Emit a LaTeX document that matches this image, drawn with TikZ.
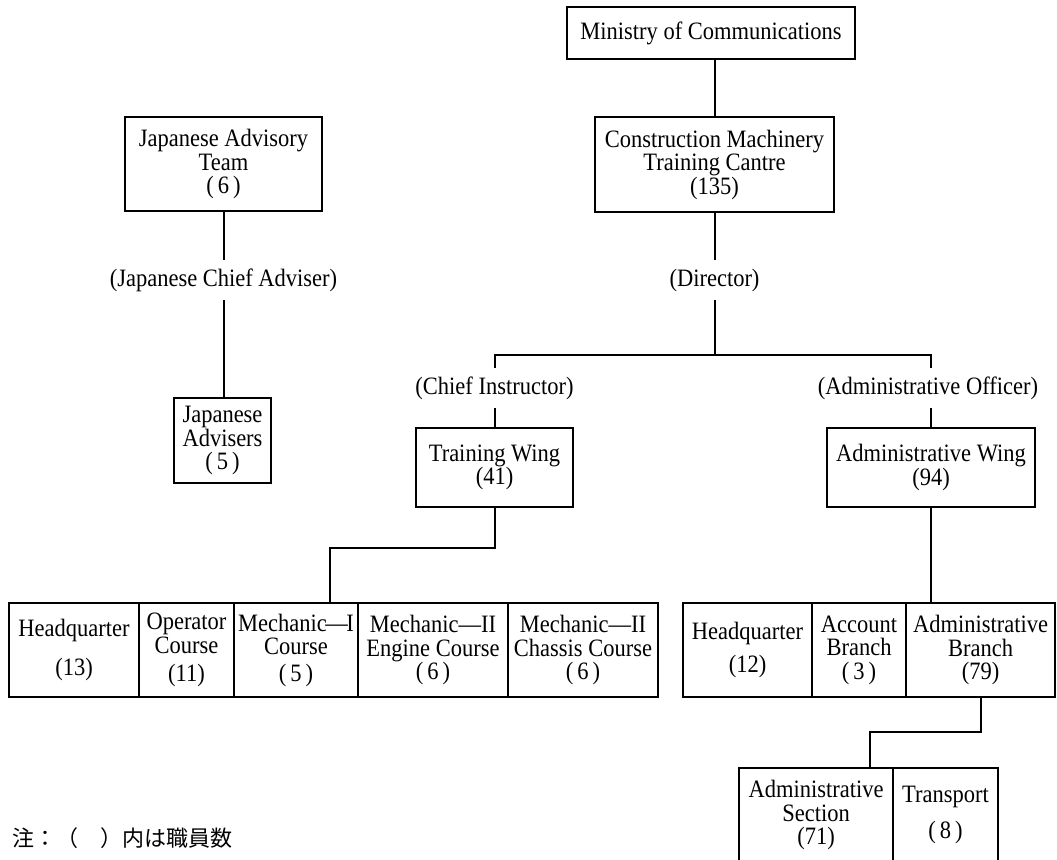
\documentclass[tikz,border=0pt]{standalone}
\usepackage{fontspec}
\newfontfamily\orgfont[FakeStretch=0.9]{Liberation Serif}
\newfontfamily\jpfont{Noto Sans CJK JP}
\newcommand{\pn}[1]{(\hspace{4pt}#1\hspace{4pt})}
\begin{document}
\begin{tikzpicture}[x=1pt,y=-1pt,
 box/.style={draw, line width=2pt, inner sep=0pt, align=center, font=\orgfont\fontsize{25}{23.5}\selectfont},
 lbl/.style={inner sep=0pt, minimum height=40pt, font=\orgfont\fontsize{25}{23.5}\selectfont},
 conn/.style={line width=2pt}]
\useasboundingbox (0,0) rectangle (1057,859);
\clip (0,0) rectangle (1057,859);
% top
\node[box, minimum width=288pt, minimum height=52pt] (min) at (711,33) {Ministry of Communications};
\node[box, minimum width=239pt, minimum height=95pt] (cmtc) at (714.5,164.5) {Construction Machinery\\Training Cantre\\(135)};
\node[lbl] (dir) at (714.5,280) {(Director)};
\coordinate (hub) at (714.5,355);
\node[lbl] (ci) at (494.5,388) {(Chief Instructor)};
\node[lbl] (ao) at (928,388) {(Administrative Officer)};
\node[box, minimum width=157pt, minimum height=79pt] (tw) at (494.5,467.5) {Training Wing\\(41)};
\node[box, minimum width=208pt, minimum height=79pt] (aw) at (931,467.5) {Administrative Wing\\(94)};
% japanese side
\node[box, minimum width=197pt, minimum height=94pt] (jat) at (223.5,164) {Japanese Advisory\\Team\\\pn{6}};
\node[lbl] (jca) at (223.5,280) {(Japanese Chief Adviser)};
\node[box, minimum width=97pt, minimum height=85pt] (ja) at (222.5,440.5) {Japanese\\Advisers\\\pn{5}};
% bottom left row
\node[box, minimum width=130pt, minimum height=94pt] (hqa) at (74,650) {Headquarter\\[16pt](13)};
\node[box, minimum width=95pt, minimum height=94pt] (op) at (186.5,650) {Operator\\Course\\[5pt](11)};
\node[box, minimum width=124pt, minimum height=94pt] (mone) at (296,650) {Mechanic\kern-1.5pt—\kern-1.5pt I\\Course\\[3pt]\pn{5}};
\node[box, minimum width=150pt, minimum height=94pt] (mtwoe) at (433,650) {Mechanic—II\\Engine Course\\\pn{6}};
\node[box, minimum width=150pt, minimum height=94pt] (mtwoc) at (583,650) {Mechanic—II\\Chassis Course\\\pn{6}};
% bottom right row
\node[box, minimum width=129pt, minimum height=94pt] (hqb) at (747.5,650) {Headquarter\\[10pt](12)};
\node[box, minimum width=94pt, minimum height=94pt] (acc) at (859,650) {Account\\Branch\\\pn{3}};
\node[box, minimum width=149pt, minimum height=94pt] (ab) at (980.5,650) {Administrative\\Branch\\(79)};
\node[box, minimum width=154pt, minimum height=94pt] (as) at (816,815) {Administrative\\Section\\(71)};
\node[box, minimum width=105pt, minimum height=94pt] (tr) at (945.5,815) {Transport\\[12pt]\pn{8}};
% connectors
\draw[conn] (min.south -| cmtc.north) -- (cmtc.north);
\draw[conn] (cmtc.south) -- (dir.north);
\draw[conn] (dir.south) -- (hub);
\draw[conn] (ci.north) |- (hub) -| (aw.north |- ao.north);
\draw[conn] (ci.south) -- (tw.north);
\draw[conn] (ao.south -| aw.north) -- (aw.north);
\draw[conn] (jat.south) -- (jca.north);
\draw[conn] (jca.south) -- (jca.south |- ja.north);
\coordinate (tj) at (330,548);
\draw[conn] (tw.south) |- (tj) -- (tj |- mone.north);
\draw[conn] (aw.south) -- (aw.south |- ab.north);
\coordinate (aj) at (870,732);
\draw[conn] (ab.south) |- (aj) -- (aj |- as.north);
% note
\node[anchor=west, inner sep=0pt, font=\jpfont\fontsize{22}{22}\selectfont] (note) at (12,838) {注：（　）内は職員数};
\end{tikzpicture}
\end{document}
